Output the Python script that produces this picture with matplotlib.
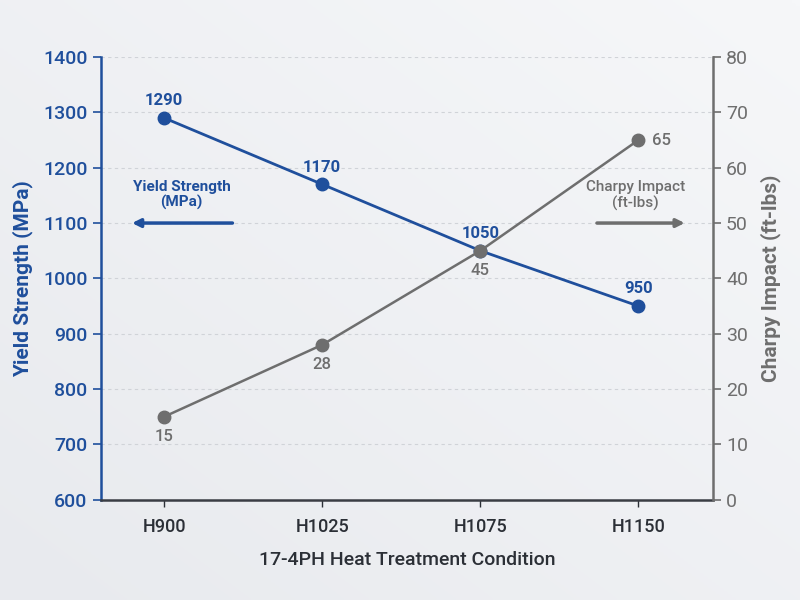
import numpy as np
import matplotlib.pyplot as plt
from matplotlib.colors import LinearSegmentedColormap

# data
conditions = ["H900", "H1025", "H1075", "H1150"]
yield_mpa = [1290, 1170, 1050, 950]
charpy_ftlb = [15, 28, 45, 65]

blue = "#1f4f9c"
gray = "#6e6e6e"
dark = "#2b2f36"

plt.rcParams['font.family'] = ['Roboto', 'DejaVu Sans']

fig = plt.figure(figsize=(8, 6), dpi=100)

# soft gradient background
bg = fig.add_axes([0, 0, 1, 1], zorder=-10)
gx, gy = np.meshgrid(np.linspace(0, 1, 200), np.linspace(0, 1, 200))
grad = 0.5 * gx + 0.5 * gy
bg.imshow(grad, cmap=LinearSegmentedColormap.from_list("bgc", ["#e8eaee", "#f6f7f9"]),
          aspect="auto", extent=[0, 1, 0, 1], origin="lower")
bg.axis("off")

ax = fig.add_axes([0.126, 0.167, 0.765, 0.738])
ax.patch.set_alpha(0)
ax2 = ax.twinx()

x = np.arange(len(conditions))

ax.plot(x, yield_mpa, color=blue, lw=2, marker="o", ms=9, zorder=5)
ax2.plot(x, charpy_ftlb, color=gray, lw=1.8, marker="o", ms=9, zorder=4)

ax.set_xlim(-0.4, 3.47)
ax.set_ylim(600, 1400)
ax2.set_ylim(0, 80)
ax.set_yticks(range(600, 1401, 100))
ax2.set_yticks(range(0, 81, 10))
ax.set_xticks(x)
ax.set_xticklabels(conditions)

ax.grid(axis="y", color="#d0d3d8", ls=(0, (3, 3)), lw=0.8)
ax.set_axisbelow(True)

ax.spines["top"].set_visible(False)
ax2.spines["top"].set_visible(False)
ax.spines["right"].set_visible(False)
ax2.spines["left"].set_visible(False)
ax2.spines["bottom"].set_visible(False)
ax.spines["left"].set_color(blue)
ax.spines["left"].set_linewidth(1.8)
ax2.spines["right"].set_color(gray)
ax2.spines["right"].set_linewidth(1.8)
ax.spines["bottom"].set_color("#3a3d44")
ax.spines["bottom"].set_linewidth(1.8)

ax.tick_params(axis="y", colors=blue, labelsize=14, length=6, width=1.2)
ax.tick_params(axis="x", colors=dark, labelsize=13, length=5, width=1, pad=8)
ax2.tick_params(axis="y", colors=gray, labelsize=14, length=6, width=1.2)
for lbl in ax.get_yticklabels() + ax.get_xticklabels():
    lbl.set_fontweight("medium")

ax.set_ylabel("Yield Strength (MPa)", color=blue, fontsize=15, fontweight="bold", labelpad=7)
ax2.set_ylabel("Charpy Impact (ft-lbs)", color=gray, fontsize=15, fontweight="bold", labelpad=9)
ax.set_xlabel("17-4PH Heat Treatment Condition", color=dark, fontsize=14,
              fontweight="medium", labelpad=11)

# point labels
for xi, v in zip(x, yield_mpa):
    ax.annotate(str(v), (xi, v), xytext=(0, 7), textcoords="offset points",
                ha="center", va="bottom", color=blue, fontsize=12, fontweight="bold")
for xi, v in zip(x, charpy_ftlb):
    if xi == len(x) - 1:
        ax2.annotate(str(v), (xi, v), xytext=(10, 0), textcoords="offset points",
                     ha="left", va="center", color=gray, fontsize=12, fontweight="medium")
    else:
        ax2.annotate(str(v), (xi, v), xytext=(0, -9), textcoords="offset points",
                     ha="center", va="top", color=gray, fontsize=12, fontweight="medium")

# axis hint arrows
ax.annotate("", xy=(-0.22, 1100), xytext=(0.45, 1100),
            arrowprops=dict(arrowstyle="-|>", color=blue, lw=2.5, mutation_scale=12))
ax.text(0.11, 1150, "Yield Strength\n(MPa)", ha="center", va="center",
        color=blue, fontsize=11, fontweight="bold", linespacing=1.1)
ax.annotate("", xy=(3.31, 1100), xytext=(2.72, 1100),
            arrowprops=dict(arrowstyle="-|>", color=gray, lw=2.5, mutation_scale=12))
ax.text(2.98, 1150, "Charpy Impact\n(ft-lbs)", ha="center", va="center",
        color=gray, fontsize=11, fontweight="medium", linespacing=1.1)

fig.savefig("out.png", dpi=100)
